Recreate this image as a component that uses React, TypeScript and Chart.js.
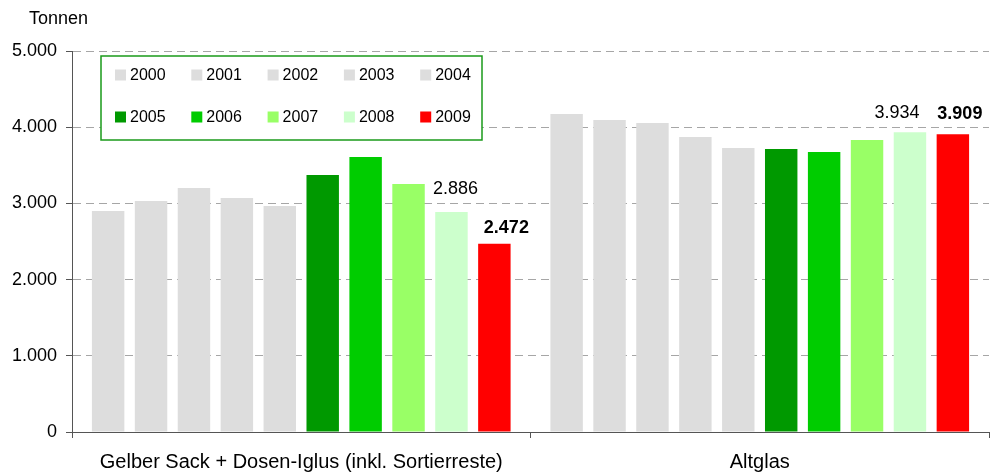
import React, { useEffect, useRef } from "react";
import { Chart, registerables } from "chart.js";

Chart.register(...registerables);

const categories = ["Gelber Sack + Dosen-Iglus (inkl. Sortierreste)", "Altglas"];
const years = ["2000", "2001", "2002", "2003", "2004", "2005", "2006", "2007", "2008", "2009"];
const values2000 = [2900, 4173];
const values2001 = [3031, 4094];
const values2002 = [3202, 4055];
const values2003 = [3071, 3871];
const values2004 = [2966, 3727];
const values2005 = [3373, 3714];
const values2006 = [3609, 3675];
const values2007 = [3255, 3832];
const values2008 = [2886, 3934];
const values2009 = [2472, 3909];
const seriesValues = [
  values2000, values2001, values2002, values2003, values2004,
  values2005, values2006, values2007, values2008, values2009,
];
const seriesColors = [
  "#DDDDDD", "#DDDDDD", "#DDDDDD", "#DDDDDD", "#DDDDDD",
  "#009900", "#00CC00", "#99FF66", "#CCFFCC", "#FF0000",
];
const labelledYears = ["2008", "2009"];
const boldLabelYears = ["2009"];
const yMin = 0;
const yMax = 5000;
const yStep = 1000;
const unitLabel = "Tonnen";

const FONT = '"Liberation Sans", Arial, Helvetica, sans-serif';

// horizontal nudges of the value labels (per year, per category), in px
const labelNudge: Record<string, number[]> = {
  "2008": [4, -13],
  "2009": [12, 7],
};
const labelRaise: Record<string, number[]> = {
  "2008": [23, 19],
  "2009": [16, 20],
};

function fmt(n: number): string {
  const s = Math.round(n).toString();
  return s.replace(/\B(?=(\d{3})+(?!\d))/g, ".");
}

const valueLabelPlugin = {
  id: "valueLabels",
  afterDatasetsDraw(chart: any) {
    const ctx = chart.ctx;
    chart.data.datasets.forEach((ds: any, di: number) => {
      if (!labelledYears.includes(ds.label)) return;
      const bold = boldLabelYears.includes(ds.label);
      const meta = chart.getDatasetMeta(di);
      meta.data.forEach((el: any, i: number) => {
        const dx = (labelNudge[ds.label] || [])[i] || 0;
        const dy = (labelRaise[ds.label] || [])[i] || 20;
        ctx.save();
        ctx.font = `${bold ? "bold " : ""}18px ${FONT}`;
        ctx.textAlign = "center";
        ctx.textBaseline = "middle";
        ctx.fillStyle = "#000";
        ctx.fillText(fmt(ds.data[i]), el.x + dx, el.y - dy);
        ctx.restore();
      });
    });
  },
};

const customLegendPlugin = {
  id: "customLegend",
  afterDraw(chart: any) {
    const ctx = chart.ctx;
    const area = chart.chartArea;
    ctx.save();
    // unit label
    ctx.font = `18px ${FONT}`;
    ctx.fillStyle = "#000";
    ctx.textAlign = "left";
    ctx.textBaseline = "middle";
    ctx.fillText(unitLabel, 29, 19);

    // legend box
    const bx = area.left + 29;
    const by = area.top + 5;
    const bw = 381;
    const bh = 84;
    ctx.fillStyle = "#fff";
    ctx.fillRect(bx, by, bw, bh);
    ctx.strokeStyle = "#1A9A1A";
    ctx.lineWidth = 1.5;
    ctx.strokeRect(bx, by, bw, bh);

    const colStep = 76.3;
    const rowYs = [by + 19, by + 61];
    ctx.font = `16px ${FONT}`;
    chart.data.datasets.forEach((ds: any, i: number) => {
      const col = i % 5;
      const row = Math.floor(i / 5);
      const x = bx + 14 + col * colStep;
      const y = rowYs[row];
      ctx.fillStyle = ds.backgroundColor;
      ctx.fillRect(x, y - 5.5, 11, 11);
      ctx.fillStyle = "#000";
      ctx.textBaseline = "middle";
      ctx.fillText(ds.label, x + 15, y + 0.5);
    });
    ctx.restore();
  },
};

export default function App() {
  const canvasRef = useRef<HTMLCanvasElement | null>(null);

  useEffect(() => {
    if (!canvasRef.current) return;
    const chart = new Chart(canvasRef.current, {
      type: "bar",
      data: {
        labels: categories,
        datasets: years.map((y, i) => ({
          label: y,
          data: seriesValues[i],
          backgroundColor: seriesColors[i],
          borderWidth: 0,
          categoryPercentage: 0.936,
          barPercentage: 0.756,
        })),
      },
      options: {
        responsive: false,
        animation: false,
        layout: { padding: { top: 51, right: 3, left: 0, bottom: 0 } },
        plugins: {
          legend: { display: false },
          title: { display: false },
          tooltip: { enabled: false },
        },
        scales: {
          x: {
            grid: {
              display: true,
              offset: true,
              drawOnChartArea: false,
              drawTicks: true,
              tickLength: 6,
              tickColor: "#555",
              color: "#555",
            },
            border: { display: true, color: "#555", width: 1 },
            ticks: {
              color: "#000",
              font: { family: FONT, size: 20 },
              padding: 12,
              maxRotation: 0,
              autoSkip: false,
            },
            afterFit(scale: any) {
              scale.height = 41;
            },
          },
          y: {
            min: yMin,
            max: yMax,
            grid: {
              color: "#A6A6A6",
              drawTicks: true,
              tickLength: 6,
              tickColor: "#555",
              lineWidth: 1,
            },
            border: { display: true, color: "#555", width: 1, dash: [8, 5] },
            ticks: {
              stepSize: yStep,
              color: "#000",
              font: { family: FONT, size: 18 },
              padding: 9,
              callback: (v: any) => fmt(Number(v)),
            },
            afterFit(scale: any) {
              scale.width = 72;
            },
          },
        },
      },
      plugins: [valueLabelPlugin, customLegendPlugin],
    });
    return () => chart.destroy();
  }, []);

  return (
    <div style={{ position: "absolute", left: 0, top: 0, width: 992, height: 473, background: "#fff" }}>
      <canvas ref={canvasRef} width={992} height={473} />
    </div>
  );
}
